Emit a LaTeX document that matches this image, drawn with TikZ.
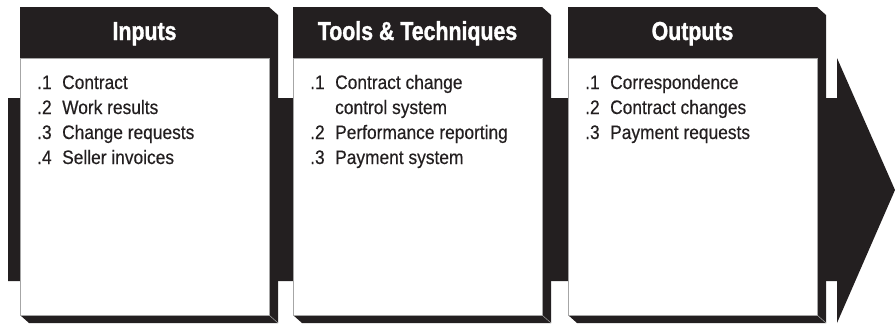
\documentclass[tikz,border=0pt]{standalone}
\usepackage{fontspec}
\usepackage{xcolor}
\usetikzlibrary{calc, positioning}

\newfontfamily\headfont{Liberation Sans}[FakeStretch=0.82, BoldFeatures={FakeBold=1.2}]
\newfontfamily\itemfont{Liberation Sans}[FakeStretch=0.89, FakeBold=0.4]
\definecolor{ink}{RGB}{35,31,32}

\tikzset{
    headtext/.style={text=white, inner sep=0pt, anchor=base,
        font=\headfont\bfseries\fontsize{26}{30}\selectfont},
    listtext/.style={text=ink, inner sep=0pt, anchor=base west,
        font=\itemfont\fontsize{19.5}{25}\selectfont},
    bodyface/.style={fill=white, draw=gray!70, line width=0.6pt}
}

\begin{document}
\begin{tikzpicture}[x=1pt, y=-1pt]
    \useasboundingbox (0,0) rectangle (895,324);

    % Mũi tên nền
    \fill[ink] (8,98) -- (837,98) -- (837,58) -- (895,190)
        -- (837,323) -- (837,281) -- (8,281) -- cycle;

    % Ba hộp
    \foreach \l/\name/\title in {20/inp/Inputs, 293/tnt/{Tools \& Techniques}, 568/out/Outputs} {
        \fill[ink] (\l+249,7) -- (\l+258,15) -- (\l+258,323) -- (\l+9,323)
            -- (\l,315) -- (\l+249,315) -- cycle;
        \fill[ink] (\l,7) rectangle (\l+249,58);
        \draw[bodyface] (\l,58) rectangle (\l+249,315);
        \draw[gray!70, line width=0.5pt] (\l+249,315) -- (\l+258,323);
        \node[headtext] (\name-head) at (\l+124.5,40) {\title};
    }

    % Danh sách
    \node[listtext] (inp-list) at (37,89) {%
        \begin{tabular}[t]{@{}p{25pt}@{}l@{}}
        .1 & Contract\\
        .2 & Work results\\
        .3 & Change requests\\
        .4 & Seller invoices
        \end{tabular}};
    \node[listtext] (tnt-list) at (310,89) {%
        \begin{tabular}[t]{@{}p{25pt}@{}l@{}}
        .1 & Contract change\\
           & control system\\
        .2 & Performance reporting\\
        .3 & Payment system
        \end{tabular}};
    \node[listtext] (out-list) at (585,89) {%
        \begin{tabular}[t]{@{}p{25pt}@{}l@{}}
        .1 & Correspondence\\
        .2 & Contract changes\\
        .3 & Payment requests
        \end{tabular}};
\end{tikzpicture}
\end{document}
